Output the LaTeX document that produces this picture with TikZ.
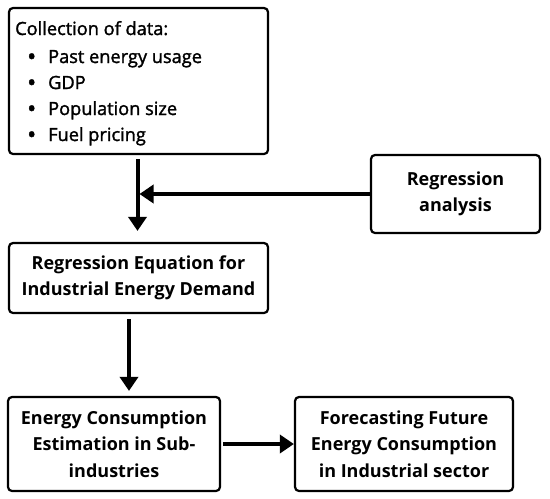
\documentclass[tikz,border=0pt]{standalone}
\usepackage{fontspec}
\setmainfont{Open Sans}
\newfontfamily\medfont[FakeBold=1.6]{Open Sans}
\usetikzlibrary{arrows.meta}
\begin{document}
\begin{tikzpicture}[x=1pt,y=-1pt,
  box/.style={draw, line width=2.2pt, rounded corners=4pt, inner sep=0pt, align=center,
    font=\fontsize{18}{26.5}\selectfont\bfseries},
  item/.style={anchor=base west, inner sep=0pt, font=\fontsize{18.2}{20}\medfont},
  bul/.style={anchor=base west, inner sep=0pt, font=\fontsize{24}{20}\medfont},
  arr/.style={line width=4pt, -{Triangle[width=18pt,length=14pt]}}]
\useasboundingbox[fill=white] (0,0) rectangle (550,499);
% boxes
\node[box, minimum width=259pt, minimum height=146pt] (data) at (138.5,81) {};
\node[item] (t0) at (15,35) {Collection of data:};
\node[bul] (b1) at (27,65) {•};
\node[item] (t1) at (48,63) {Past energy usage};
\node[bul] (b2) at (27,91) {•};
\node[item] (t2) at (48,89) {GDP};
\node[bul] (b3) at (27,117) {•};
\node[item] (t3) at (48,115) {Population size};
\node[bul] (b4) at (27,143) {•};
\node[item] (t4) at (48,141) {Fuel pricing};
\node[box, minimum width=169pt, minimum height=78pt] (reg) at (455.5,194) {Regression\\analysis};
\node[box, minimum width=259pt, minimum height=70pt] (eq) at (138.5,278) {Regression Equation for\\Industrial Energy Demand};
\node[box, minimum width=212pt, minimum height=94pt] (est) at (114,444) {Energy Consumption\\Estimation in Sub-\\industries};
\node[box, minimum width=218pt, minimum height=94pt] (fc) at (404,444) {Forecasting Future\\Energy Consumption\\in Industrial sector};
% connectors
\draw[arr, shorten <=4pt, shorten >=11pt] ([xshift=-1pt]data.south) -- ([xshift=-1pt]eq.north);
\draw[arr, shorten >=1pt] (reg.west) -- (reg.west -| data.south);
\draw[arr, shorten <=5pt, shorten >=5pt] ([xshift=-9.5pt]eq.south) -- ([xshift=-9.5pt]eq.south |- est.north);
\draw[arr, shorten <=2pt] (est.east) -- (fc.west);
\end{tikzpicture}
\end{document}
